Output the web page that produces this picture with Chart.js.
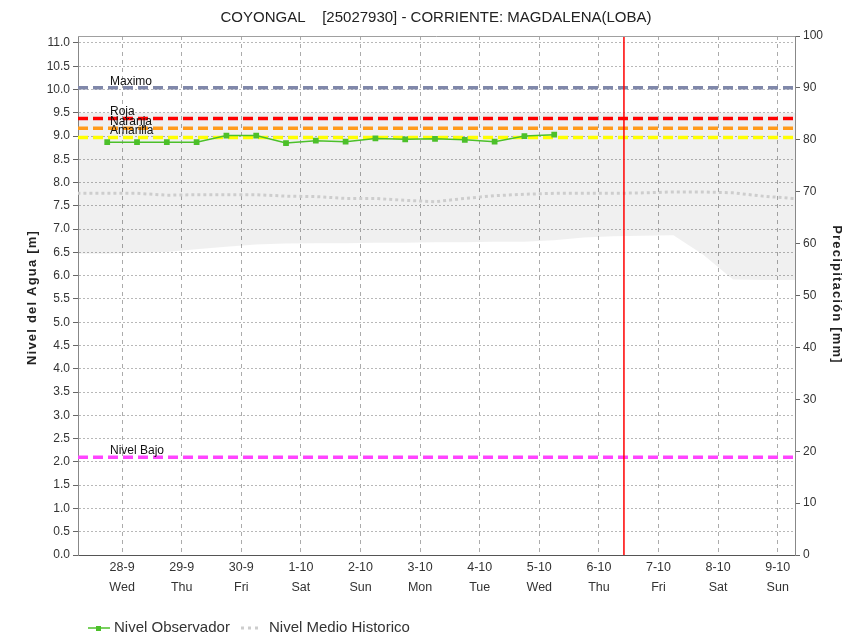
<!DOCTYPE html>
<html>
<head>
<meta charset="utf-8">
<title>COYONGAL - Nivel del Agua</title>
<script src="https://cdn.jsdelivr.net/npm/chart.js@4"></script>
<style>
  html, body { margin: 0; padding: 0; background: #fff; }
  #chart { display: block; }
</style>
</head>
<body>
<canvas id="chart" width="851" height="636"></canvas>
<script>
// day ticks (0 = 28-9)
var dayLabels = ["28-9", "29-9", "30-9", "1-10", "2-10", "3-10", "4-10", "5-10", "6-10", "7-10", "8-10", "9-10"];
var weekDays = ["Wed", "Thu", "Fri", "Sat", "Sun", "Mon", "Tue", "Wed", "Thu", "Fri", "Sat", "Sun"];

// observed level, one reading every 12 h (time in days from the 28-9 tick)
var obsTimes = [-0.25, 0.25, 0.75, 1.25, 1.75, 2.25, 2.75, 3.25, 3.75, 4.25, 4.75, 5.25, 5.75, 6.25, 6.75, 7.25];
var obsLevel = [8.87, 8.87, 8.87, 8.87, 9.01, 9.01, 8.85, 8.90, 8.88, 8.95, 8.93, 8.94, 8.92, 8.88, 9.00, 9.03];

// historical mean / max / min for the same dates
var histTimes = [-0.75, -0.25, 0.25, 0.75, 1.25, 1.75, 2.25, 2.75, 3.25, 3.75, 4.25, 4.75, 5.25,
                 5.75, 6.25, 6.75, 7.25, 7.75, 8.25, 8.75, 9.25, 9.75, 10.25, 10.75, 11.25, 11.75];
var histMean = [7.77, 7.77, 7.77, 7.73, 7.74, 7.74, 7.74, 7.71, 7.70, 7.66, 7.66, 7.62, 7.59,
                7.66, 7.72, 7.75, 7.77, 7.77, 7.77, 7.78, 7.80, 7.80, 7.78, 7.71, 7.66, 7.64];
var histMax = [9.5, 9.5, 9.5, 9.5, 9.5, 9.5, 9.5, 9.5, 9.5, 9.5, 9.5, 9.5, 9.5,
               9.5, 9.5, 9.5, 9.5, 9.5, 9.5, 9.5, 9.5, 9.5, 9.5, 9.5, 9.5, 9.5];
var histMin = [6.47, 6.47, 6.49, 6.51, 6.57, 6.62, 6.67, 6.69, 6.70, 6.70, 6.71, 6.71, 6.72,
               6.72, 6.73, 6.73, 6.76, 6.82, 6.85, 6.86, 6.87, 6.45, 5.92, 5.91, 5.91, 5.91];

// alert levels
var levelNames = ["Maximo", "Roja", "Naranja", "Amarilla", "Nivel Bajo"];
var levelValues = [10.04, 9.38, 9.17, 8.97, 2.10];
var levelColors = ["#8088aa", "#ff0000", "#ff9a1a", "#ffff00", "#ff44ff"];

// current time marker
var nowTime = 8.42;

var X_MIN = -0.74, X_MAX = 11.29, Y_MAX = 11.15;
var FONT = '"Liberation Sans", Arial, sans-serif';

Chart.defaults.font.family = FONT;
Chart.defaults.color = "#333";

function pts(xs, ys) {
  return xs.map(function(x, i) { return { x: x, y: ys[i] }; });
}

var datasets = [
  {
    label: "max",
    data: pts(histTimes, histMax),
    borderWidth: 0,
    pointRadius: 0,
    fill: "+1",
    backgroundColor: "rgba(0, 0, 0, 0.06)",
    order: 20
  },
  {
    label: "min",
    data: pts(histTimes, histMin),
    borderWidth: 0,
    pointRadius: 0,
    fill: false,
    order: 19
  },
  {
    label: "Nivel Medio Historico",
    data: pts(histTimes, histMean),
    borderColor: "#cdcdcd",
    borderWidth: 3,
    borderDash: [3, 3],
    pointRadius: 0,
    fill: false,
    order: 15
  }
];

levelNames.forEach(function(name, i) {
  datasets.push({
    label: name,
    data: [{ x: X_MIN, y: levelValues[i] }, { x: X_MAX, y: levelValues[i] }],
    borderColor: levelColors[i],
    borderWidth: 3.5,
    borderDash: [10, 5],
    borderCapStyle: "butt",
    pointRadius: 0,
    fill: false,
    order: 10 - i
  });
});

datasets.push({
  label: "now",
  data: [{ x: nowTime, y: 0 }, { x: nowTime, y: Y_MAX }],
  borderColor: "#ff0000",
  borderWidth: 1.5,
  pointRadius: 0,
  fill: false,
  order: 2
});

datasets.push({
  label: "Nivel Observador",
  data: pts(obsTimes, obsLevel),
  borderColor: "#4cc02a",
  backgroundColor: "#4cc02a",
  borderWidth: 1.5,
  pointStyle: "rect",
  pointRadius: 3,
  fill: false,
  order: 1
});

// rotated axis title with a little letter spacing
function axisTitle(ctx, text, x, y, angle) {
  ctx.save();
  ctx.translate(x, y);
  ctx.rotate(angle);
  ctx.font = "bold 13px " + FONT;
  ctx.letterSpacing = "1.2px";
  ctx.fillStyle = "#222";
  ctx.textAlign = "center";
  ctx.textBaseline = "middle";
  ctx.fillText(text, 0, 0);
  ctx.restore();
}

// title, frame, axis titles, level names and legend
var decorations = {
  id: "decorations",
  afterDatasetsDraw: function(chart) {
    var ctx = chart.ctx, area = chart.chartArea, y = chart.scales.y;
    ctx.save();
    ctx.font = "12px " + FONT;
    ctx.fillStyle = "#111";
    ctx.textBaseline = "alphabetic";
    levelNames.forEach(function(name, i) {
      ctx.fillText(name, area.left + 32, y.getPixelForValue(levelValues[i]) - 3);
    });
    ctx.restore();
  },
  afterDraw: function(chart) {
    var ctx = chart.ctx, area = chart.chartArea;
    ctx.save();

    // top frame line
    ctx.strokeStyle = "#a0a0a0";
    ctx.lineWidth = 1;
    ctx.beginPath();
    ctx.moveTo(area.left, area.top + 0.5);
    ctx.lineTo(area.right, area.top + 0.5);
    ctx.stroke();

    // title
    ctx.fillStyle = "#222";
    ctx.font = "15px " + FONT;
    ctx.textAlign = "center";
    ctx.textBaseline = "middle";
    ctx.fillText("COYONGAL    [25027930] - CORRIENTE: MAGDALENA(LOBA)", 436, 18);

    // legend
    var ly = 628;
    ctx.textAlign = "left";
    ctx.strokeStyle = "#4cc02a";
    ctx.lineWidth = 1.5;
    ctx.beginPath();
    ctx.moveTo(88, ly);
    ctx.lineTo(110, ly);
    ctx.stroke();
    ctx.fillStyle = "#4cc02a";
    ctx.fillRect(96, ly - 2, 5, 5);
    ctx.fillStyle = "#333";
    ctx.fillText("Nivel Observador", 114, ly);

    ctx.strokeStyle = "#cdcdcd";
    ctx.lineWidth = 3;
    ctx.setLineDash([3, 4]);
    ctx.beginPath();
    ctx.moveTo(241, ly);
    ctx.lineTo(262, ly);
    ctx.stroke();
    ctx.setLineDash([]);
    ctx.fillText("Nivel Medio Historico", 269, ly);
    ctx.restore();

    var midY = (area.top + area.bottom) / 2;
    axisTitle(ctx, "Nivel del Agua [m]", 32, midY + 2, -Math.PI / 2);
    axisTitle(ctx, "Precipitación [mm]", 837, midY - 1, Math.PI / 2);
  }
};

var chart = new Chart(document.getElementById("chart").getContext("2d"), {
  type: "line",
  data: { datasets: datasets },
  plugins: [decorations],
  options: {
    responsive: false,
    animation: false,
    layout: { padding: { top: 36, bottom: 36, left: 0, right: 0 } },
    plugins: {
      legend: { display: false },
      tooltip: { enabled: false }
    },
    scales: {
      x: {
        type: "linear",
        min: X_MIN,
        max: X_MAX,
        afterFit: function(scale) { scale.height = 45; },
        afterBuildTicks: function(scale) {
          scale.ticks = dayLabels.map(function(_, i) { return { value: i }; });
        },
        ticks: {
          autoSkip: false,
          maxRotation: 0,
          padding: 3,
          color: "#333",
          font: { size: 12.5, lineHeight: 1.6 },
          callback: function(value) {
            var i = Math.round(value);
            return [dayLabels[i], weekDays[i]];
          }
        },
        grid: {
          color: "#ababab",
          drawTicks: false
        },
        border: { color: "#555", width: 1, dash: [4, 4] }
      },
      y: {
        position: "left",
        min: 0,
        max: Y_MAX,
        afterFit: function(scale) { scale.width = 78; },
        ticks: {
          stepSize: 0.5,
          includeBounds: false,
          padding: 3,
          color: "#333",
          font: { size: 12 },
          callback: function(v) { return v.toFixed(1); }
        },
        grid: {
          color: "#b8b8b8",
          tickLength: 5,
          tickColor: "#666"
        },
        border: { color: "#888", width: 1, dash: [2, 2] }
      },
      y1: {
        position: "right",
        min: 0,
        max: 100,
        afterFit: function(scale) { scale.width = 56; },
        ticks: {
          stepSize: 10,
          padding: 3,
          color: "#333",
          font: { size: 12 }
        },
        grid: {
          drawOnChartArea: false,
          tickLength: 5,
          tickColor: "#666"
        },
        border: { color: "#888", width: 1 }
      }
    }
  }
});
</script>
</body>
</html>
